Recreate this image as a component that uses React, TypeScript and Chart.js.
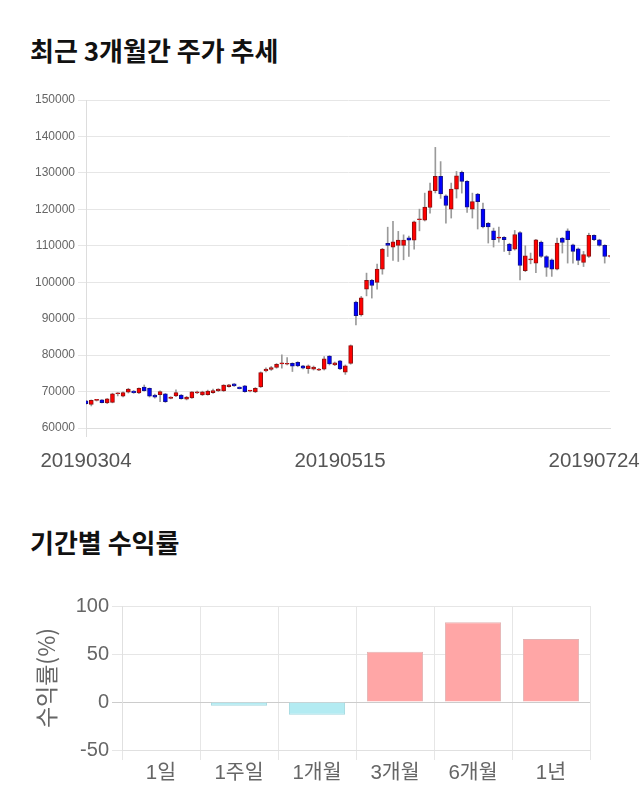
import React, { useEffect, useRef } from 'react';
import { Chart, registerables } from 'chart.js';

Chart.register(...registerables);

const FONT = '"Noto Sans CJK KR", "Noto Sans", sans-serif';
const NUM_FONT = '"Liberation Sans", "Noto Sans CJK KR", sans-serif';

// ---- Candle chart data (최근 3개월간 주가 추세) ----
const tickPositions = [0, 48, 96];
const tickLabels = ['20190304', '20190515', '20190724'];

const opens = [
  67450, 66500, 67600, 67700, 66900, 67050, 69400, 68700, 69800, 70150,
  69600, 71200, 70900, 69050, 69150, 69350, 68150, 68800, 69050, 67900,
  68250, 69600, 69050, 69150, 69700, 70200, 70200, 71350, 72100, 71200,
  71550, 70100, 69900, 71300, 75650, 76050, 76600, 77600, 77500, 77750,
  78050, 77050, 76300, 76150, 75850, 76150, 79700, 77300, 78400, 75300,
  77750, 94550, 91050, 98100, 100550, 99950, 103600, 110650, 109650, 110100,
  110100, 112200, 111550, 117150, 117050, 120500, 125100, 129050, 123700, 120050,
  125550, 130150, 127650, 120050, 124200, 120050, 116150, 114100, 112100, 112300,
  110450, 109100, 113650, 103150, 106150, 105250, 111000, 107050, 106150, 103600,
  112100, 114100, 110250, 109150, 105400, 107050, 112850, 111650, 110100, 107050,
];
const highs = [
  67600, 67700, 67800, 67800, 68100, 69550, 69700, 69900, 70900, 70300,
  71000, 71800, 71000, 69300, 70200, 69500, 68600, 70450, 69200, 68700,
  70000, 70100, 70100, 70400, 70650, 70800, 71900, 72000, 72200, 71300,
  71700, 70300, 71100, 75400, 76500, 76900, 77700, 80050, 79300, 77900,
  78200, 77200, 77300, 77000, 76400, 79600, 79900, 78100, 78600, 77300,
  82800, 94800, 96100, 102500, 100800, 104950, 109300, 115100, 116700, 113950,
  113000, 112650, 116800, 120050, 124450, 127200, 137000, 133100, 124000, 127200,
  130400, 130500, 127900, 124450, 124400, 121700, 116400, 114850, 115150, 112500,
  110700, 114200, 113900, 110000, 108000, 111800, 111300, 107300, 106400, 112100,
  112300, 114650, 110500, 109400, 108450, 113450, 113000, 111800, 110300, 107300,
];
const lows = [
  66500, 66050, 67400, 66900, 66700, 66900, 68800, 68500, 69600, 69500,
  69400, 70100, 68500, 68200, 67250, 67000, 68000, 68600, 67900, 67700,
  68100, 69400, 68900, 69000, 69500, 70000, 70000, 71200, 71400, 70700,
  69800, 69900, 69700, 71100, 75400, 75800, 76400, 76400, 77300, 75500,
  76800, 76200, 75000, 75900, 75700, 75900, 77300, 77100, 76000, 74700,
  77500, 88300, 90700, 96250, 95650, 98100, 102200, 107050, 105950, 105700,
  106150, 107050, 109100, 114100, 116800, 118950, 124500, 123000, 116200, 117600,
  123100, 124450, 119150, 117600, 114600, 114900, 110750, 109650, 111000, 108450,
  107550, 108800, 100650, 102900, 105050, 102650, 106800, 101600, 101600, 103400,
  108000, 105250, 105250, 104800, 104300, 106800, 111400, 109900, 105250, 106900,
];
const closes = [
  66700, 67600, 67650, 66950, 68000, 69350, 69450, 69700, 70700, 69700,
  70900, 70250, 68700, 68450, 70000, 67250, 68450, 69700, 68050, 68500,
  69900, 69900, 69900, 70150, 70250, 70650, 71750, 71850, 71550, 70800,
  70000, 70100, 70900, 75200, 76150, 76600, 77500, 77600, 77750, 76950,
  77050, 76400, 77050, 76750, 76200, 78950, 77600, 77850, 76200, 77050,
  82600, 90850, 95700, 100550, 99100, 103600, 109100, 110100, 111100, 111550,
  111550, 111550, 116600, 117150, 120600, 125100, 129050, 124200, 121050, 125550,
  129200, 127650, 120600, 122100, 122100, 115150, 115150, 111650, 112100, 111650,
  108650, 113100, 104600, 107250, 106150, 111650, 107050, 104050, 103600, 110750,
  110900, 111650, 108450, 105950, 107600, 112850, 111650, 110100, 107050, 107050,
];

// ---- Return chart data (기간별 수익률) ----
const periods = ['1일', '1주일', '1개월', '3개월', '6개월', '1년'];
const returns = [0, -3.8, -13.4, 52.4, 83.1, 65.5];

function CandleChart() {
  const ref = useRef<HTMLCanvasElement | null>(null);
  useEffect(() => {
    if (!ref.current) return;
    const up = opens.map((o, i) => closes[i] >= o);
    const chart = new Chart(ref.current, {
      type: 'bar',
      data: {
        labels: opens.map((_, i) => String(i)),
        datasets: [
          {
            label: 'body',
            data: opens.map((o, i) => [o, closes[i]]) as any,
            backgroundColor: up.map((u) => (u ? '#ff0000' : '#0000ff')),
            borderColor: up.map((u) => (u ? '#8c1010' : '#10108c')),
            borderWidth: 1,
            borderSkipped: false,
            barThickness: 4,
            minBarLength: 1,
            grouped: false,
            order: 1,
          } as any,
          {
            label: 'wick',
            data: lows.map((l, i) => [l, highs[i]]) as any,
            backgroundColor: '#9a9a9a',
            borderWidth: 0,
            barThickness: 1,
            grouped: false,
            order: 2,
          } as any,
        ],
      },
      options: {
        animation: false,
        responsive: false,
        devicePixelRatio: 1,
        layout: { padding: { top: 20, right: 30, left: 0, bottom: 0 } },
        plugins: { legend: { display: false }, tooltip: { enabled: false } },
        scales: {
          x: {
            type: 'category',
            offset: false,
            grid: {
              offset: false,
              drawOnChartArea: false,
              tickLength: 9,
              color: (ctx: any) => (ctx.index === 0 ? '#dddddd' : 'rgba(0,0,0,0)'),
            },
            border: { display: true, color: '#dddddd' },
            ticks: {
              autoSkip: false,
              maxRotation: 0,
              minRotation: 0,
              padding: 12,
              color: '#555555',
              font: { family: NUM_FONT, size: 20.5 },
              callback: (_v: any, i: number) => {
                const k = tickPositions.indexOf(i);
                return k >= 0 ? tickLabels[k] : '';
              },
            },
            afterFit: (s: any) => {
              s.height = 60;
            },
          } as any,
          y: {
            min: 60000,
            max: 150000,
            ticks: {
              stepSize: 10000,
              color: '#666666',
              font: { family: NUM_FONT, size: 12 },
              callback: (v: any) => String(v),
            },
            grid: { color: '#e6e6e6' },
            border: { color: '#dddddd' },
            afterFit: (s: any) => {
              s.width = 86;
            },
          } as any,
        },
      },
    });
    return () => chart.destroy();
  }, []);
  return (
    <canvas
      ref={ref}
      width={640}
      height={408}
      style={{ position: 'absolute', left: 0, top: 80, width: 640, height: 408 }}
    />
  );
}

function ReturnChart() {
  const ref = useRef<HTMLCanvasElement | null>(null);
  useEffect(() => {
    if (!ref.current) return;
    const chart = new Chart(ref.current, {
      type: 'bar',
      data: {
        labels: periods,
        datasets: [
          {
            label: '수익률',
            data: returns,
            backgroundColor: returns.map((v) => (v >= 0 ? '#ffa6a6' : '#b3ebf2')),
            borderColor: returns.map((v) => (v >= 0 ? '#e3b3b3' : '#a3d8df')),
            borderWidth: 1,
          },
        ],
      },
      options: {
        animation: false,
        responsive: false,
        devicePixelRatio: 1,
        layout: { padding: { top: 36, right: 50, left: 30, bottom: 0 } },
        plugins: { legend: { display: false }, tooltip: { enabled: false } },
        scales: {
          x: {
            grid: {
              color: (ctx: any) => (ctx.index >= periods.length ? 'rgba(0,0,0,0)' : '#e6e6e6'),
              tickLength: 10,
            },
            border: { color: '#e0e0e0' },
            ticks: { color: '#666666', font: { family: NUM_FONT, size: 20.5 }, padding: 1 },
            afterFit: (s: any) => {
              s.height = 60;
            },
          } as any,
          y: {
            min: -50,
            max: 100,
            ticks: { stepSize: 50, color: '#666666', font: { family: NUM_FONT, size: 20 } },
            grid: {
              color: (ctx: any) => (ctx.tick && ctx.tick.value === 0 ? '#cccccc' : '#e6e6e6'),
              tickLength: 10,
            },
            border: { color: '#e0e0e0' },
            title: {
              display: true,
              text: '수익률(%)',
              color: '#666666',
              font: { family: FONT, size: 23 },
              padding: { top: 2, bottom: 2 },
            },
            afterFit: (s: any) => {
              s.width = 92;
            },
          } as any,
        },
      },
    });
    return () => chart.destroy();
  }, []);
  return (
    <canvas
      ref={ref}
      width={640}
      height={240}
      style={{ position: 'absolute', left: 0, top: 570, width: 640, height: 240 }}
    />
  );
}

const titleStyle: React.CSSProperties = {
  position: 'absolute',
  left: 30,
  margin: 0,
  fontFamily: FONT,
  fontWeight: 700,
  fontSize: 26,
  lineHeight: '28px',
  color: '#111111',
  whiteSpace: 'nowrap',
};

export default function App() {
  return (
    <div style={{ position: 'absolute', left: 0, top: 0, width: 640, height: 810, background: '#ffffff', overflow: 'hidden' }}>
      <div style={{ ...titleStyle, top: 36 }}>최근 3개월간 주가 추세</div>
      <CandleChart />
      <div style={{ ...titleStyle, top: 528 }}>기간별 수익률</div>
      <ReturnChart />
    </div>
  );
}
